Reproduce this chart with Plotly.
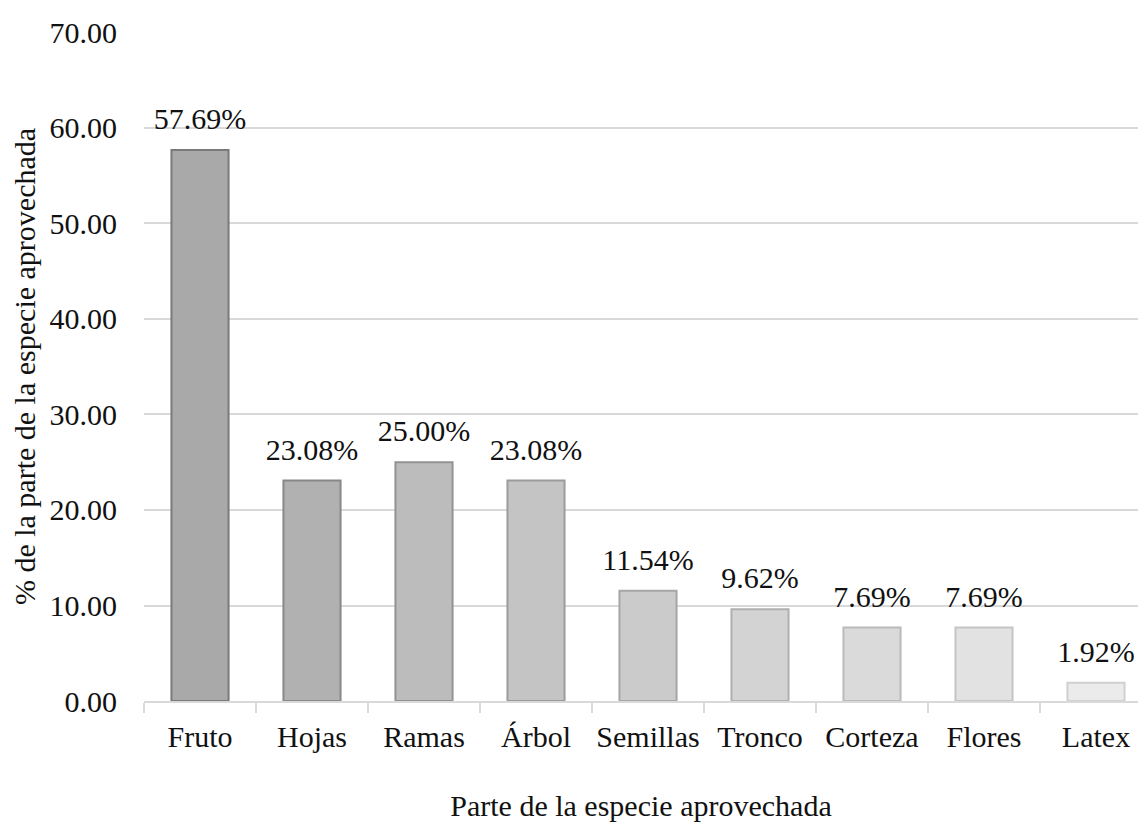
import plotly.graph_objects as go

# Parts of the species that are used, and their share (%)
categories = ["Fruto", "Hojas", "Ramas", "Árbol", "Semillas", "Tronco", "Corteza", "Flores", "Latex"]
values = [57.69, 23.08, 25.00, 23.08, 11.54, 9.62, 7.69, 7.69, 1.92]
labels = [f"{v:.2f}%" for v in values]
y_ticks = [0, 10, 20, 30, 40, 50, 60, 70]

# Progressively lighter grey fill per bar, with a slightly darker outline
fills = ["#a9a9a9", "#b1b1b1", "#bcbcbc", "#c4c4c4", "#cbcbcb",
         "#d3d3d3", "#dadada", "#e2e2e2", "#ebebeb"]
outlines = ["#7a7a7a", "#888888", "#939393", "#9c9c9c", "#a6a6a6",
            "#b0b0b0", "#bababa", "#c4c4c4", "#d0d0d0"]

FONT = "Liberation Serif"
FS = 30
INK = "#111111"

fig = go.Figure()
fig.add_trace(
    go.Bar(
        x=categories,
        y=values,
        width=0.51,
        marker=dict(color=fills, line=dict(color=outlines, width=2)),
        hoverinfo="x+y",
    )
)
# Value labels sitting above each bar (invisible marker keeps a gap)
fig.add_trace(
    go.Scatter(
        x=categories,
        y=values,
        mode="markers+text",
        text=labels,
        textposition="top center",
        textfont=dict(family=FONT, size=FS, color=INK),
        marker=dict(size=20, opacity=0),
        cliponaxis=False,
        hoverinfo="skip",
    )
)

fig.update_layout(
    width=1138,
    height=825,
    margin=dict(l=144, r=0, t=32, b=124, autoexpand=False),
    paper_bgcolor="white",
    plot_bgcolor="white",
    showlegend=False,
    font=dict(family=FONT, size=FS, color=INK),
    xaxis=dict(
        range=[-0.5, 8.375],
        tickson="boundaries",
        ticks="outside",
        ticklen=10,
        tickwidth=2,
        tickcolor="#d9d9d9",
        tickangle=0,
        showline=True,
        linecolor="#d9d9d9",
        linewidth=2,
        showgrid=False,
        ticklabelstandoff=8,
        automargin=False,
        tickfont=dict(family=FONT, size=FS, color=INK),
        title=dict(text="Parte de la especie aprovechada", standoff=43,
                   font=dict(family=FONT, size=FS, color=INK)),
    ),
    yaxis=dict(
        range=[0, 70.05],
        tickvals=y_ticks,
        tickformat=".2f",
        showgrid=True,
        gridcolor="#d9d9d9",
        gridwidth=2,
        zeroline=False,
        showline=False,
        ticks="",
        ticklabelstandoff=26,
        automargin=False,
        tickfont=dict(family=FONT, size=FS, color=INK),
        title=dict(text="% de la parte de la especie aprovechada", standoff=5,
                   font=dict(family=FONT, size=FS, color=INK)),
    ),
)

fig.write_html("out.html")
